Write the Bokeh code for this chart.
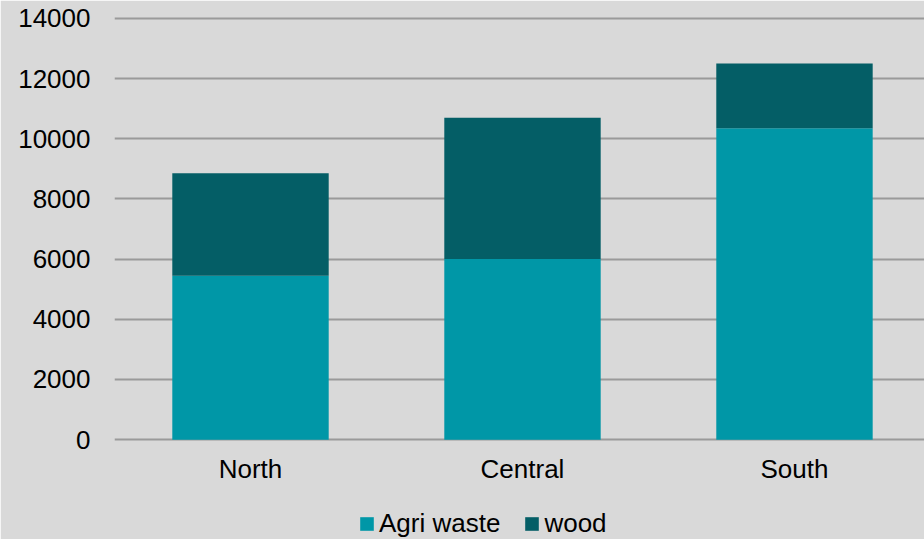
from bokeh.plotting import figure
from bokeh.models import Legend, LegendItem, Range1d, FixedTicker, ColumnDataSource
from bokeh.core.properties import value
from bokeh.embed import file_html
from bokeh.resources import INLINE

regions = ["North", "Central", "South"]
agri_waste = [5450, 6000, 10350]
wood = [3400, 4700, 2150]
series = ["Agri waste", "wood"]
colors = ["#0097a7", "#045e66"]
y_ticks = [0, 2000, 4000, 6000, 8000, 10000, 12000, 14000]

FONT = "Liberation Sans"
BG = "#d9d9d9"

# one slot per region, bars centred in each slot
x_pos = [i + 0.5 for i in range(len(regions))]

# the frame runs down to the page bottom so the category labels and the
# legend sit inside it, below the zero line
p = figure(
    x_range=Range1d(0, 2.978),
    y_range=Range1d(-3316, 14060),
    width=924, height=539,
    output_backend="svg", toolbar_location=None,
    min_border_left=114, min_border_right=0,
    min_border_top=16, min_border_bottom=0,
)
p.background_fill_color = BG
p.border_fill_color = BG
# outline in the background colour hides the seam at the frame edge
p.outline_line_color = BG
p.outline_line_width = 2

data = {"x": x_pos, "Agri waste": agri_waste, "wood": wood}
renderers = p.vbar_stack(
    series, x="x", width=0.575, source=data,
    fill_color=colors, line_color=None,
)

# grid
p.xgrid.grid_line_color = None
p.ygrid.grid_line_color = "#9a9a9a"
p.ygrid.grid_line_width = 2
p.ygrid.level = "underlay"
p.ygrid.ticker = FixedTicker(ticks=y_ticks)

# value axis
p.yaxis.ticker = FixedTicker(ticks=y_ticks)
p.yaxis.axis_line_color = None
p.yaxis.major_tick_line_color = None
p.yaxis.minor_tick_line_color = None
p.yaxis.major_label_text_font = FONT
p.yaxis.major_label_text_font_size = "26px"
p.yaxis.major_label_text_color = "#000000"
p.yaxis.major_label_standoff = 18

# category labels under each bar
p.xaxis.visible = False
labels = ColumnDataSource({"x": x_pos, "y": [-990] * len(regions), "text": regions})
p.text(
    x="x", y="y", text="text", source=labels,
    text_font=value(FONT), text_font_size=value("26px"),
    text_color="#000000", text_align="center", text_baseline="middle",
)

legend = Legend(
    items=[LegendItem(label=s, renderers=[r]) for s, r in zip(series, renderers)],
    orientation="horizontal",
    location=(244, 0),
    glyph_width=17, glyph_height=17,
    label_standoff=4, spacing=23,
    padding=0, margin=0,
    label_text_font=FONT, label_text_font_size="26px",
    label_text_color="#000000",
    border_line_color=None, background_fill_alpha=0,
)
p.add_layout(legend, "center")

open("out.html", "w").write(file_html(p, INLINE))
